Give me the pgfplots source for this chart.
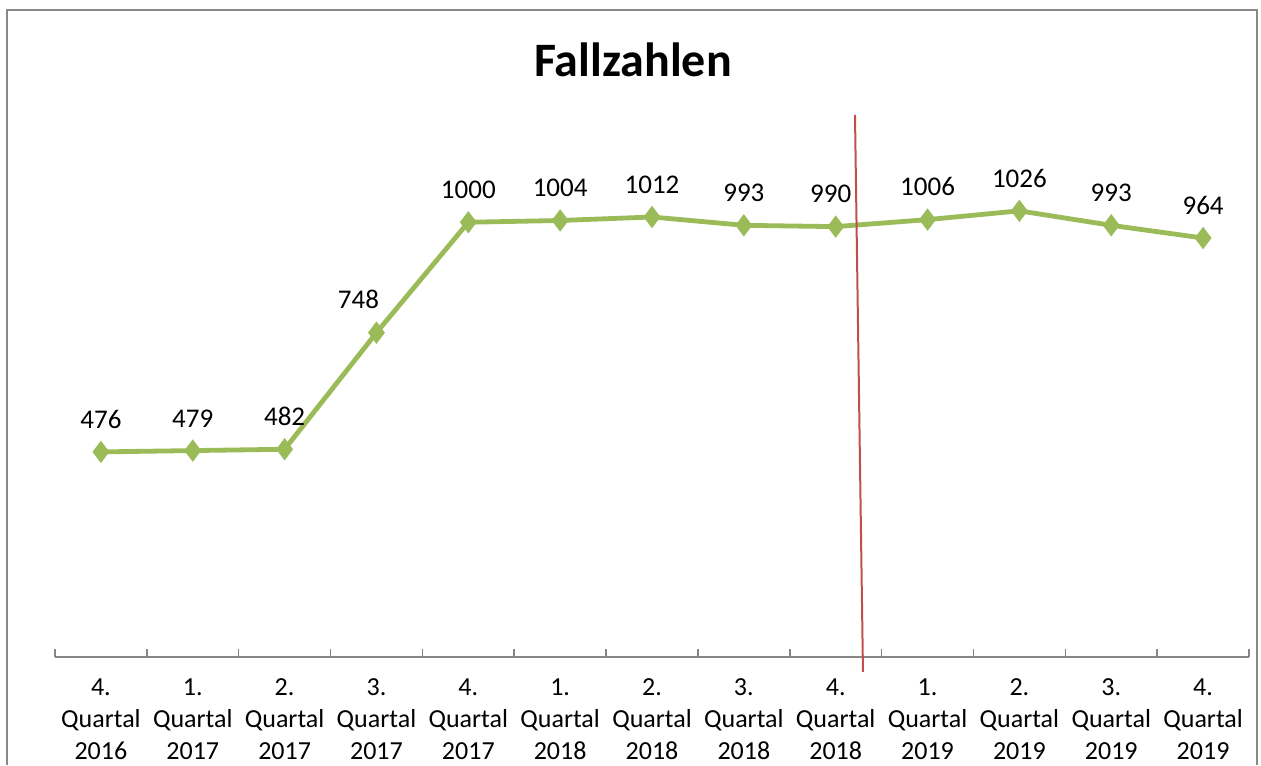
\documentclass[border=0pt]{standalone}
\usepackage{pgfplots}
\pgfplotsset{compat=1.18}
\usepackage{fontspec}
\setmainfont{Carlito}
\definecolor{olivegreen}{HTML}{9BBB59}
\definecolor{redline}{HTML}{C0504D}
\definecolor{axisgray}{HTML}{868686}
\definecolor{framegray}{HTML}{898989}

\pgfplotstableread{
x y dx
0 476 0
1 479 0
2 482 0
3 748 -9
4 1000 0
5 1004 0
6 1012 0
7 993 0
8 990 -2.5
9 1006 0
10 1026 0
11 993 0
12 964 0
}\fallzahlen

\begin{document}
\begin{tikzpicture}
\begin{axis}[
    scale only axis,
    width=597pt, height=261.2pt,
    xmin=-0.5, xmax=12.5,
    ymin=8, ymax=1200,
    axis x line=bottom,
    axis y line=none,
    axis line style={axisgray, line width=0.75pt, -},
    xtick={-0.5,0.5,...,12.5},
    x tick label as interval,
    xticklabels={{4.\\Quartal\\2016},{1.\\Quartal\\2017},{2.\\Quartal\\2017},{3.\\Quartal\\2017},
                 {4.\\Quartal\\2017},{1.\\Quartal\\2018},{2.\\Quartal\\2018},{3.\\Quartal\\2018},
                 {4.\\Quartal\\2018},{1.\\Quartal\\2019},{2.\\Quartal\\2019},{3.\\Quartal\\2019},
                 {4.\\Quartal\\2019}},
    xticklabel style={align=center, font=\fontsize{13}{16}\selectfont, text=black, yshift=-7.5pt},
    xtick align=inside,
    major tick length=4pt,
    xtick style={axisgray, line width=0.75pt},
    ytick=\empty,
    clip=false,
]
\addplot[olivegreen, line width=2.4pt, mark=diamond*, mark size=5.2pt,
    mark options={fill=olivegreen, draw=olivegreen, line width=0.5pt},
    visualization depends on={\thisrow{dx}\as\dx},
    nodes near coords,
    point meta=explicit,
    nodes near coords style={font=\fontsize{13.5}{16}\selectfont, text=black,
        anchor=south, inner sep=0pt, yshift=11.5pt, xshift=\dx pt,
        /pgf/number format/assume math mode=true,
        /pgf/number format/1000 sep={}},
] table[x=x, y=y, meta=y] {\fallzahlen};
\draw[redline, line width=1pt] (axis cs:8.21,1245) -- (axis cs:8.297,-26);
\end{axis}
\begin{scope}[x=0.5pt, y=-0.5pt, shift={(-27.5pt,328.5pt)}]
\draw[framegray, line width=1.3pt] (7,765) -- (7,10) -- (1257,10) -- (1257,765);
\node[anchor=base, inner sep=0pt, font=\fontsize{24}{28}\selectfont\bfseries] at (633,77) {Fallzahlen};
\pgfresetboundingbox
\useasboundingbox (0,0) rectangle (1261,765);
\end{scope}
\end{tikzpicture}
\end{document}
